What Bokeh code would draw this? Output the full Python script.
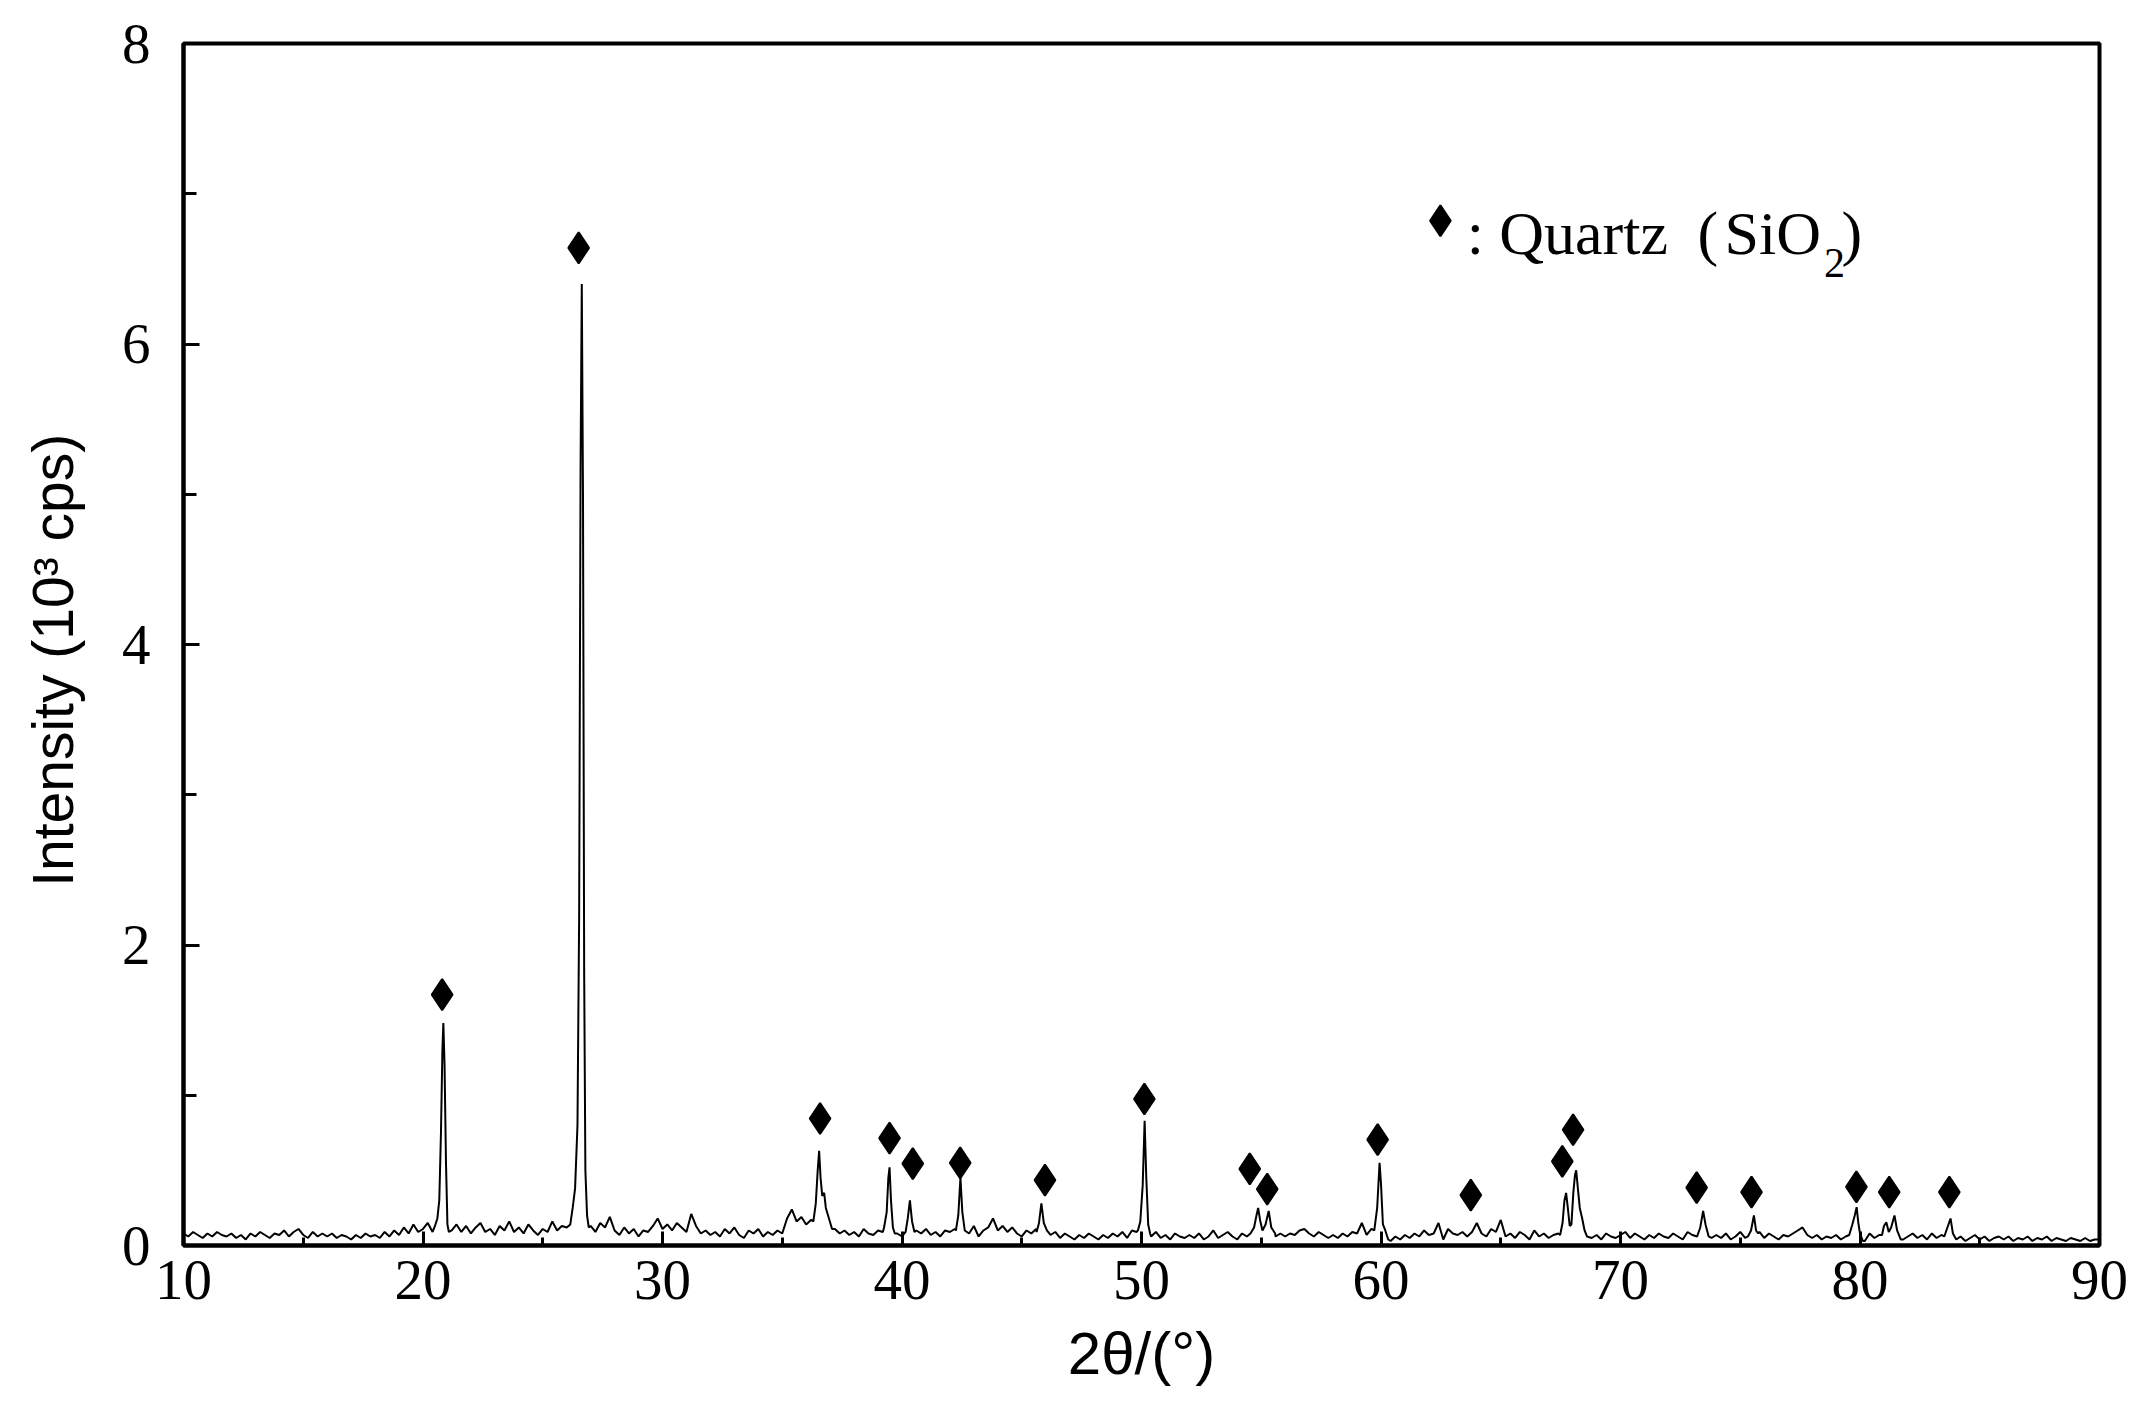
import numpy as np
from bokeh.plotting import figure
from bokeh.models import Range1d, FixedTicker, Label
from bokeh.embed import file_html
from bokeh.resources import INLINE

# ---------------- data (units: 10^3 cps) ----------------
# background trace sampled every 0.2 deg from 10.0 to 90.0
bg_intensity = [
    0.08, 0.06, 0.09, 0.07, 0.05, 0.08, 0.06, 0.09, 0.07, 0.06,   # 10
    0.08, 0.05, 0.07, 0.04, 0.08, 0.06, 0.09, 0.07, 0.05, 0.08,   # 12
    0.07, 0.10, 0.06, 0.09, 0.11, 0.07, 0.05, 0.09, 0.06, 0.08,   # 14
    0.06, 0.08, 0.05, 0.07, 0.06, 0.04, 0.07, 0.05, 0.08, 0.06,   # 16
    0.07, 0.05, 0.09, 0.06, 0.10, 0.07, 0.12, 0.08, 0.14, 0.09,   # 18
    0.11, 0.15, 0.09, 0.17, 0.20, 0.12, 0.10, 0.14, 0.09, 0.13,   # 20
    0.08, 0.12, 0.15, 0.09, 0.11, 0.07, 0.13, 0.10, 0.16, 0.09,   # 22
    0.12, 0.08, 0.14, 0.10, 0.07, 0.11, 0.09, 0.16, 0.10, 0.13,   # 24
    0.12, 0.17, 0.30, 0.30, 0.20, 0.13, 0.09, 0.15, 0.12, 0.19,   # 26
    0.10, 0.07, 0.12, 0.08, 0.11, 0.06, 0.10, 0.09, 0.13, 0.18,   # 28
    0.11, 0.14, 0.10, 0.15, 0.12, 0.09, 0.21, 0.13, 0.08, 0.10,   # 30
    0.07, 0.09, 0.06, 0.11, 0.08, 0.12, 0.07, 0.05, 0.10, 0.08,   # 32
    0.11, 0.06, 0.09, 0.07, 0.10, 0.08, 0.18, 0.24, 0.16, 0.19,   # 34
    0.14, 0.17, 0.30, 0.50, 0.30, 0.19, 0.11, 0.08, 0.10, 0.07,   # 36
    0.09, 0.06, 0.11, 0.08, 0.07, 0.10, 0.09, 0.30, 0.12, 0.08,   # 38
    0.06, 0.12, 0.25, 0.10, 0.08, 0.11, 0.07, 0.09, 0.06, 0.10,   # 40
    0.09, 0.11, 0.30, 0.12, 0.08, 0.13, 0.06, 0.10, 0.12, 0.18,   # 42
    0.10, 0.13, 0.09, 0.12, 0.08, 0.06, 0.10, 0.08, 0.11, 0.20,   # 44
    0.12, 0.07, 0.09, 0.05, 0.08, 0.06, 0.04, 0.07, 0.05, 0.08,   # 46
    0.06, 0.04, 0.07, 0.05, 0.08, 0.06, 0.09, 0.05, 0.10, 0.09,   # 48
    0.40, 0.40, 0.06, 0.09, 0.05, 0.07, 0.04, 0.08, 0.06, 0.05,   # 50
    0.07, 0.05, 0.08, 0.04, 0.06, 0.10, 0.05, 0.07, 0.09, 0.06,   # 52
    0.04, 0.08, 0.06, 0.10, 0.20, 0.10, 0.20, 0.09, 0.06, 0.08,   # 54
    0.06, 0.08, 0.07, 0.10, 0.11, 0.08, 0.06, 0.09, 0.07, 0.05,   # 56
    0.07, 0.05, 0.08, 0.06, 0.09, 0.08, 0.15, 0.07, 0.11, 0.30,   # 58
    0.40, 0.10, 0.03, 0.06, 0.04, 0.07, 0.05, 0.08, 0.06, 0.10,   # 60
    0.07, 0.08, 0.15, 0.04, 0.11, 0.08, 0.07, 0.09, 0.06, 0.09,   # 62
    0.15, 0.08, 0.06, 0.11, 0.09, 0.17, 0.06, 0.08, 0.05, 0.09,   # 64
    0.07, 0.04, 0.10, 0.06, 0.08, 0.05, 0.07, 0.08, 0.20, 0.30,   # 66
    0.30, 0.30, 0.19, 0.08, 0.05, 0.07, 0.04, 0.08, 0.06, 0.05,   # 68
    0.07, 0.09, 0.05, 0.08, 0.06, 0.04, 0.07, 0.05, 0.08, 0.06,   # 70
    0.05, 0.08, 0.06, 0.04, 0.09, 0.07, 0.06, 0.20, 0.10, 0.05,   # 72
    0.07, 0.05, 0.08, 0.04, 0.06, 0.09, 0.05, 0.12, 0.20, 0.09,   # 74
    0.05, 0.08, 0.06, 0.04, 0.07, 0.06, 0.08, 0.10, 0.12, 0.07,   # 76
    0.05, 0.07, 0.04, 0.06, 0.05, 0.07, 0.04, 0.06, 0.12, 0.20,   # 78
    0.07, 0.03, 0.08, 0.05, 0.07, 0.06, 0.15, 0.10, 0.12, 0.04,   # 80
    0.06, 0.08, 0.05, 0.07, 0.04, 0.08, 0.05, 0.07, 0.12, 0.15,   # 82
    0.04, 0.06, 0.03, 0.05, 0.07, 0.04, 0.06, 0.03, 0.05, 0.06,   # 84
    0.04, 0.06, 0.03, 0.05, 0.04, 0.06, 0.03, 0.05, 0.04, 0.06,   # 86
    0.03, 0.05, 0.04, 0.03, 0.05, 0.04, 0.03, 0.05, 0.03, 0.04,   # 88
    0.04,                                                         # 90
]
bg_two_theta = [round(10.0 + 0.2 * i, 2) for i in range(len(bg_intensity))]

# diffraction peaks, each as a list of (2theta, intensity) points
peak_segments = [
    [(20.50, 0.13), (20.60, 0.18), (20.68, 0.30), (20.75, 0.75), (20.81, 1.30),
     (20.85, 1.48), (20.90, 1.20), (20.96, 0.55), (21.02, 0.14), (21.08, 0.09)],
    [(26.15, 0.14), (26.25, 0.25), (26.35, 0.38), (26.45, 0.80), (26.52, 2.20),
     (26.58, 5.20), (26.63, 6.40), (26.68, 5.00), (26.73, 1.80), (26.78, 0.50),
     (26.85, 0.20), (26.92, 0.12)],
    [(36.30, 0.16), (36.40, 0.28), (36.48, 0.50), (36.54, 0.63), (36.60, 0.45),
     (36.67, 0.33), (36.75, 0.35), (36.82, 0.25), (36.95, 0.18), (37.08, 0.11)],
    [(39.25, 0.12), (39.36, 0.22), (39.43, 0.45), (39.48, 0.52), (39.54, 0.30),
     (39.62, 0.12), (39.70, 0.08)],
    [(40.15, 0.09), (40.24, 0.18), (40.33, 0.30), (40.42, 0.16), (40.52, 0.09)],
    [(42.25, 0.10), (42.35, 0.20), (42.44, 0.45), (42.52, 0.22), (42.62, 0.10)],
    [(45.62, 0.09), (45.72, 0.15), (45.82, 0.28), (45.92, 0.15), (46.05, 0.10)],
    [(49.85, 0.10), (49.95, 0.16), (50.05, 0.40), (50.13, 0.83), (50.20, 0.45),
     (50.28, 0.14), (50.36, 0.08)],
    [(54.55, 0.08), (54.70, 0.12), (54.80, 0.20), (54.87, 0.25), (54.95, 0.17),
     (55.05, 0.10), (55.18, 0.14), (55.31, 0.23), (55.42, 0.12), (55.58, 0.08)],
    [(59.72, 0.10), (59.84, 0.25), (59.94, 0.55), (60.00, 0.41), (60.08, 0.14),
     (60.18, 0.10), (60.30, 0.04)],
    [(67.48, 0.07), (67.58, 0.15), (67.66, 0.30), (67.73, 0.35), (67.80, 0.25),
     (67.88, 0.13), (67.95, 0.14), (68.03, 0.35), (68.10, 0.47), (68.15, 0.50),
     (68.22, 0.38), (68.30, 0.25), (68.40, 0.18), (68.50, 0.10), (68.60, 0.06)],
    [(73.22, 0.07), (73.33, 0.12), (73.45, 0.23), (73.55, 0.14), (73.68, 0.06)],
    [(75.32, 0.06), (75.45, 0.10), (75.57, 0.20), (75.66, 0.10), (75.75, 0.08)],
    [(79.55, 0.07), (79.68, 0.14), (79.78, 0.20), (79.86, 0.255), (79.93, 0.15),
     (80.00, 0.08), (80.12, 0.03)],
    [(80.92, 0.07), (81.00, 0.13), (81.10, 0.155), (81.20, 0.09), (81.30, 0.12),
     (81.44, 0.20), (81.55, 0.10), (81.70, 0.04)],
    [(83.52, 0.06), (83.65, 0.12), (83.78, 0.18), (83.88, 0.08), (84.02, 0.04)],
]

# quartz marker annotations (2theta, level) as placed in the figure
quartz_mark_2theta = [20.80, 26.50, 36.58, 39.48, 40.45, 42.43, 45.97, 50.12, 54.52, 55.25,
                      59.86, 63.75, 67.57, 68.02, 73.18, 75.47, 79.85, 81.22, 83.73]
quartz_mark_level = [1.67, 6.64, 0.845, 0.715, 0.545, 0.55, 0.435, 0.975, 0.51, 0.375,
                     0.705, 0.335, 0.56, 0.77, 0.385, 0.355, 0.39, 0.355, 0.355]

x_major_ticks = [10, 20, 30, 40, 50, 60, 70, 80, 90]
x_minor_ticks = [15, 25, 35, 45, 55, 65, 75, 85]
y_major_ticks = [0, 2, 4, 6, 8]
y_minor_ticks = [1, 3, 5, 7]

# ---------------- assemble trace ----------------
points = [(x, y) for x, y in zip(bg_two_theta, bg_intensity)
          if not any(seg[0][0] <= x <= seg[-1][0] for seg in peak_segments)]
for seg in peak_segments:
    points.extend(seg)
points.sort()
two_theta = [pt[0] for pt in points]
intensity = [pt[1] for pt in points]

# ---------------- figure ----------------
p = figure(frame_width=1916, frame_height=1202,
           x_range=Range1d(10, 90), y_range=Range1d(0, 8),
           output_backend="svg", toolbar_location=None,
           min_border_left=183, min_border_right=39,
           min_border_top=43, min_border_bottom=145,
           background_fill_color="white", border_fill_color="white")
p.xgrid.visible = False
p.ygrid.visible = False
p.outline_line_color = "black"
p.outline_line_width = 4
p.outline_line_alpha = 1.0

p.xaxis.ticker = FixedTicker(ticks=x_major_ticks, minor_ticks=x_minor_ticks)
p.yaxis.ticker = FixedTicker(ticks=y_major_ticks, minor_ticks=y_minor_ticks)

for ax in (p.xaxis, p.yaxis):
    ax.axis_line_width = 4
    ax.axis_line_color = "black"
    ax.major_tick_line_width = 3
    ax.minor_tick_line_width = 3
    ax.major_tick_line_color = "black"
    ax.minor_tick_line_color = "black"
    ax.major_tick_out = 0
    ax.minor_tick_out = 0
    ax.major_label_text_font = "Liberation Serif"
    ax.major_label_text_font_size = "57px"
    ax.major_label_text_color = "black"
    ax.axis_label_text_font = "Liberation Sans"
    ax.axis_label_text_font_style = "normal"
    ax.axis_label_text_color = "black"

p.xaxis.axis_label_text_font_size = "60px"
p.yaxis.axis_label_text_font_size = "57px"
p.xaxis.major_tick_in = 14
p.xaxis.minor_tick_in = 8
p.yaxis.major_tick_in = 16
p.yaxis.minor_tick_in = 13
p.xaxis.major_label_standoff = 15
p.yaxis.major_label_standoff = 33
p.xaxis.axis_label = "2θ/(°)"
p.xaxis.axis_label_standoff = 18
# two trailing no-break spaces nudge the title slightly below the frame centre
p.yaxis.axis_label = "Intensity (10³ cps)\u00a0\u00a0"
p.yaxis.axis_label_standoff = 34

p.line(x=two_theta, y=intensity, line_color="black", line_width=2)

p.scatter(x=quartz_mark_2theta, y=quartz_mark_level, marker="diamond", size=31,
          fill_color="black", line_color="black", line_width=2)

# legend-style annotation
p.scatter(x=[62.48], y=[6.82], marker="diamond", size=31,
          fill_color="black", line_color="black", line_width=2)
legend_font = "Liberation Serif"
for txt, xpos in [(":", 63.58), ("Quartz", 64.94), ("(", 73.22), ("SiO", 74.34), (")", 79.23)]:
    p.add_layout(Label(x=xpos, y=6.742, text=txt, text_font=legend_font,
                       text_font_size="62px", text_color="black",
                       text_align="left", text_baseline="alphabetic"))
p.add_layout(Label(x=78.50, y=6.54, text="2", text_font=legend_font,
                   text_font_size="42px", text_color="black",
                   text_align="left", text_baseline="alphabetic"))

open("out.html", "w").write(file_html(p, INLINE))
